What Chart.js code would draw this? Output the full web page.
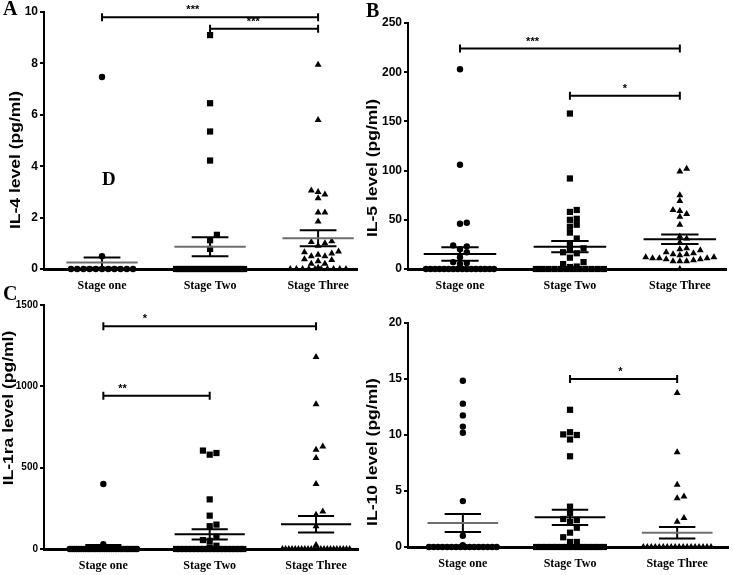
<!DOCTYPE html>
<html>
<head>
<meta charset="utf-8">
<script src="https://cdn.jsdelivr.net/npm/chart.js@4/dist/chart.umd.min.js"></script>
<style>
  body { margin: 0; background: #fff; }
  #wrap { position: relative; width: 733px; height: 575px; overflow: hidden; background: #fff; }
  #wrap canvas { position: absolute; }
  .letter { position: absolute; font: bold 20px "Liberation Serif", "Times New Roman", serif; line-height: 20px; color: #000; }
</style>
</head>
<body>
<div id="wrap">
  <canvas id="chartA" width="363" height="300" style="left:0;top:0"></canvas>
  <canvas id="chartB" width="370" height="300" style="left:363px;top:0"></canvas>
  <canvas id="chartC" width="363" height="285" style="left:0;top:290px"></canvas>
  <canvas id="chartD" width="370" height="285" style="left:363px;top:290px"></canvas>
  <div class="letter" style="left:3px;top:-2px">A</div>
  <div class="letter" style="left:366px;top:0px">B</div>
  <div class="letter" style="left:3px;top:283px">C</div>
  <div class="letter" style="left:102px;top:169px;font-size:19px">D</div>
</div>
<script>
const stages = ['Stage one', 'Stage Two', 'Stage Three'];

// IL-4 (pg/ml)
const il4StageOne = [7.47, 0.5, 0, 0, 0, 0, 0, 0, 0, 0, 0, 0, 0];
const il4StageTwo = [9.1, 6.45, 5.35, 4.22, 1.33, 1.12, 0.78,
  0, 0, 0, 0, 0, 0, 0, 0, 0, 0, 0, 0, 0, 0, 0, 0, 0, 0, 0, 0, 0, 0];
const il4StageThree = [7.95, 5.8, 3.05, 3.0, 2.9, 2.75, 2.2, 2.2, 1.85, 1.08, 1.05, 1.0, 0.9,
  0.68, 0.65, 0.6, 0.55, 0.5, 0.5, 0.38, 0.35, 0.3, 0.2, 0.2, 0.05,
  0, 0, 0, 0, 0, 0, 0, 0, 0, 0];
const il4Mean = [0.25, 0.87, 1.2];
const il4Sem = [0.2, 0.37, 0.31];
const il4Pairs = [[1, 3], [2, 3]];
const il4Sig = ['***', '***'];
const il4SigLevel = [9.8, 9.35];

// IL-5 (pg/ml)
const il5StageOne = [203, 106, 47, 46, 24, 23, 20, 17, 12, 7, 6, 5,
  0, 0, 0, 0, 0, 0, 0, 0, 0, 0, 0, 0, 0, 0, 0, 0];
const il5StageTwo = [158, 92, 60, 58, 51, 50, 45, 43, 37, 31, 26, 21, 20, 17, 16, 11.5, 7, 5, 2.5, 2,
  0, 0, 0, 0, 0, 0, 0, 0, 0, 0, 0, 0];
const il5StageThree = [102, 99, 75, 69, 60, 59, 56, 53, 45, 33, 31, 27, 21, 20, 19, 17, 16, 15, 15,
  14, 12, 12, 11, 11, 11, 10, 10, 9, 8, 8, 8, 0];
const il5Mean = [15.2, 22.7, 30.2];
const il5Sem = [6.8, 5.7, 4.8];
const il5Pairs = [[1, 3], [2, 3]];
const il5Sig = ['***', '*'];
const il5SigLevel = [224, 176];

// IL-1ra (pg/ml)
const il1raStageOne = [400, 30,
  0, 0, 0, 0, 0, 0, 0, 0, 0, 0, 0, 0, 0, 0, 0, 0, 0, 0, 0, 0, 0, 0, 0, 0, 0, 0, 0, 0, 0, 0];
const il1raStageTwo = [605, 590, 580, 305, 205, 150, 140, 75, 55, 50, 20, 10,
  0, 0, 0, 0, 0, 0, 0, 0, 0, 0, 0, 0, 0, 0, 0, 0, 0, 0];
const il1raStageThree = [1180, 890, 630, 610, 560, 400, 230, 210, 140, 25,
  0, 0, 0, 0, 0, 0, 0, 0, 0, 0, 0, 0, 0, 0, 0, 0, 0, 0, 0, 0, 0, 0];
const il1raMean = [12, 90, 152];
const il1raSem = [12, 32, 51];
const il1raPairs = [[1, 3], [1, 2]];
const il1raSig = ['*', '**'];
const il1raSigLevel = [1370, 942];

// IL-10 (pg/ml)
const il10StageOne = [14.85, 12.8, 11.75, 10.75, 10.2, 4.1, 1.0, 0.15,
  0, 0, 0, 0, 0, 0, 0, 0, 0, 0, 0, 0, 0, 0, 0, 0];
const il10StageTwo = [12.25, 10.25, 10.05, 10.0, 9.6, 8.1, 3.6, 3.05, 2.5, 2.4, 2.25, 1.72, 1.28, 0.87, 0.45, 0.45,
  0, 0, 0, 0, 0, 0, 0, 0, 0, 0, 0, 0, 0, 0];
const il10StageThree = [13.75, 8.45, 5.55, 4.5, 4.35, 2.6, 2.25,
  0, 0, 0, 0, 0, 0, 0, 0, 0, 0, 0, 0, 0, 0, 0, 0, 0, 0];
const il10Mean = [2.15, 2.65, 1.27];
const il10Sem = [0.8, 0.68, 0.52];
const il10Pairs = [[2, 3]];
const il10Sig = ['*'];
const il10SigLevel = [15];

const markers = ['circle', 'rect', 'triangle'];
const markerRadius = [3.2, 4.4, 4.0];

// spread points of one group sideways so they don't overlap (dot plot layout)
function swarm(values, center, pxX, pxY, maxHalf) {
  const dia = 6.2;
  const zeroRow = [];
  const placed = [];
  const sorted = values.slice().sort((a, b) => a - b);
  const zeroCount = sorted.filter(v => v === 0).length;
  if (zeroCount > 0) {
    const gap = zeroCount > 1 ? Math.min(dia, 2 * maxHalf / (zeroCount - 1)) : 0;
    for (let i = 0; i < zeroCount; i++) {
      zeroRow.push({ dx: (i - (zeroCount - 1) / 2) * gap, v: 0 });
    }
  }
  sorted.filter(v => v !== 0).forEach(v => {
    const py = v * pxY;
    let dx = 0;
    for (let k = 0; k < 80; k++) {
      const off = (k % 2 ? 1 : -1) * Math.ceil(k / 2) * dia * 0.55;
      const hit = placed.some(p => Math.abs(p.dx - off) < dia * 0.95 && Math.abs(p.py - py) < dia * 0.95);
      if (!hit) { dx = off; break; }
    }
    placed.push({ dx: dx, py: py, v: v });
  });
  return zeroRow.concat(placed).map(p => ({ x: center + p.dx / pxX, y: p.v }));
}

const overlayPlugin = {
  id: 'overlay',
  afterDatasetsDraw(chart, args, o) {
    const ctx = chart.ctx;
    const xs = chart.scales.x, ys = chart.scales.y;
    ctx.save();
    ctx.lineCap = 'butt';
    // mean and SEM
    o.mean.forEach((m, i) => {
      const c = i + 1;
      const yM = ys.getPixelForValue(m);
      const yHi = ys.getPixelForValue(m + o.sem[i]);
      const yLo = ys.getPixelForValue(Math.max(0, m - o.sem[i]));
      ctx.strokeStyle = '#000';
      ctx.lineWidth = 2;
      ctx.beginPath();
      ctx.moveTo(xs.getPixelForValue(c), yHi);
      ctx.lineTo(xs.getPixelForValue(c), yLo);
      [yHi, yLo].forEach(y => {
        ctx.moveTo(xs.getPixelForValue(c - 0.17), y);
        ctx.lineTo(xs.getPixelForValue(c + 0.17), y);
      });
      ctx.stroke();
      ctx.strokeStyle = o.meanColors[i];
      ctx.beginPath();
      ctx.moveTo(xs.getPixelForValue(c - 0.33), yM);
      ctx.lineTo(xs.getPixelForValue(c + 0.33), yM);
      ctx.stroke();
    });
    // significance brackets
    ctx.strokeStyle = '#000';
    ctx.fillStyle = '#000';
    ctx.lineWidth = 2;
    ctx.font = 'bold 11px "Liberation Sans", Arial, sans-serif';
    ctx.textAlign = 'center';
    ctx.textBaseline = 'alphabetic';
    o.pairs.forEach((p, i) => {
      const y = ys.getPixelForValue(o.level[i]);
      const x1 = xs.getPixelForValue(p[0]), x2 = xs.getPixelForValue(p[1]);
      ctx.beginPath();
      ctx.moveTo(x1, y); ctx.lineTo(x2, y);
      ctx.moveTo(x1, y - 4); ctx.lineTo(x1, y + 4);
      ctx.moveTo(x2, y - 4); ctx.lineTo(x2, y + 4);
      ctx.stroke();
      ctx.fillText(o.sig[i], xs.getPixelForValue(o.starX[i]), y - 4);
    });
    // y axis title (the source figure stretches it along its length)
    ctx.translate(o.titleX, o.titleY);
    ctx.rotate(-Math.PI / 2);
    ctx.scale(1.25, 1);
    ctx.font = 'bold 14px "Liberation Sans", Arial, sans-serif';
    ctx.textBaseline = 'middle';
    ctx.fillText(o.title, 0, 0);
    ctx.restore();
  }
};

function makeChart(id, cfg) {
  const canvas = document.getElementById(id);
  const W = canvas.width, H = canvas.height;
  const a = cfg.area;
  const pxX = (a.right - a.left) / (cfg.xMax - cfg.xMin);
  const pxY = (a.bottom - a.top) / cfg.yMax;
  const datasets = cfg.groups.map((g, i) => ({
    label: stages[i],
    data: swarm(g, i + 1, pxX, pxY, 34),
    pointStyle: markers[i],
    pointRadius: markerRadius[i],
    pointHoverRadius: markerRadius[i],
    backgroundColor: '#000',
    borderColor: '#000',
    borderWidth: 0,
    clip: false
  }));
  return new Chart(canvas.getContext('2d'), {
    type: 'scatter',
    data: { datasets: datasets },
    options: {
      responsive: false,
      animation: false,
      events: [],
      layout: { padding: { left: 0, top: a.top, right: W - a.right, bottom: 0 } },
      plugins: {
        legend: { display: false },
        tooltip: { enabled: false },
        overlay: {
          mean: cfg.mean, sem: cfg.sem, meanColors: cfg.meanColors,
          pairs: cfg.pairs, sig: cfg.sig, level: cfg.level, starX: cfg.starX,
          title: cfg.title, titleX: cfg.titleX, titleY: cfg.titleY
        }
      },
      scales: {
        x: {
          type: 'linear',
          min: cfg.xMin,
          max: cfg.xMax,
          afterFit: s => { s.height = H - a.bottom; },
          afterBuildTicks: s => { s.ticks = [{ value: 1 }, { value: 2 }, { value: 3 }]; },
          grid: { display: true, drawOnChartArea: false, drawTicks: false },
          border: { display: true, color: '#000', width: 3 },
          ticks: {
            padding: 10,
            color: '#000',
            font: { family: '"Liberation Serif", "Times New Roman", serif', size: 12, weight: 'bold' },
            callback: v => stages[v - 1] || ''
          }
        },
        y: {
          min: 0,
          max: cfg.yMax,
          afterFit: s => { s.width = a.left; },
          grid: { display: true, drawOnChartArea: false, drawTicks: true, tickLength: 4, color: '#000', lineWidth: 2 },
          border: { display: true, color: '#000', width: 2 },
          ticks: {
            stepSize: cfg.yStep,
            padding: 2,
            color: '#000',
            font: { family: '"Liberation Sans", Arial, sans-serif', size: cfg.tickSize, weight: 'bold' },
            callback: v => String(v)
          }
        }
      }
    },
    plugins: [overlayPlugin]
  });
}

makeChart('chartA', {
  groups: [il4StageOne, il4StageTwo, il4StageThree],
  mean: il4Mean, sem: il4Sem, meanColors: ['#6e6e6e', '#6e6e6e', '#6e6e6e'],
  pairs: il4Pairs, sig: il4Sig, level: il4SigLevel, starX: [1.84, 2.4],
  yMax: 10, yStep: 2, xMin: 0.463, xMax: 3.36, tickSize: 12,
  area: { left: 44, top: 12, right: 357, bottom: 269 },
  title: 'IL-4 level (pg/ml)', titleX: 16, titleY: 160
});

makeChart('chartB', {
  groups: [il5StageOne, il5StageTwo, il5StageThree],
  mean: il5Mean, sem: il5Sem, meanColors: ['#000', '#000', '#000'],
  pairs: il5Pairs, sig: il5Sig, level: il5SigLevel, starX: [1.66, 2.5],
  yMax: 250, yStep: 50, xMin: 0.527, xMax: 3.42, tickSize: 12,
  area: { left: 45, top: 23, right: 363, bottom: 269 },
  title: 'IL-5 level (pg/ml)', titleX: 10, titleY: 168
});

makeChart('chartC', {
  groups: [il1raStageOne, il1raStageTwo, il1raStageThree],
  mean: il1raMean, sem: il1raSem, meanColors: ['#000', '#000', '#000'],
  pairs: il1raPairs, sig: il1raSig, level: il1raSigLevel, starX: [1.39, 1.18],
  yMax: 1500, yStep: 500, xMin: 0.442, xMax: 3.4, tickSize: 10,
  area: { left: 44, top: 15, right: 362, bottom: 259 },
  title: 'IL-1ra level (pg/ml)', titleX: 9, titleY: 118
});

makeChart('chartD', {
  groups: [il10StageOne, il10StageTwo, il10StageThree],
  mean: il10Mean, sem: il10Sem, meanColors: ['#6e6e6e', '#000', '#6e6e6e'],
  pairs: il10Pairs, sig: il10Sig, level: il10SigLevel, starX: [2.47],
  yMax: 20, yStep: 5, xMin: 0.488, xMax: 3.48, tickSize: 12,
  area: { left: 45, top: 33, right: 367, bottom: 257 },
  title: 'IL-10 level (pg/ml)', titleX: 10, titleY: 162
});
</script>
</body>
</html>
